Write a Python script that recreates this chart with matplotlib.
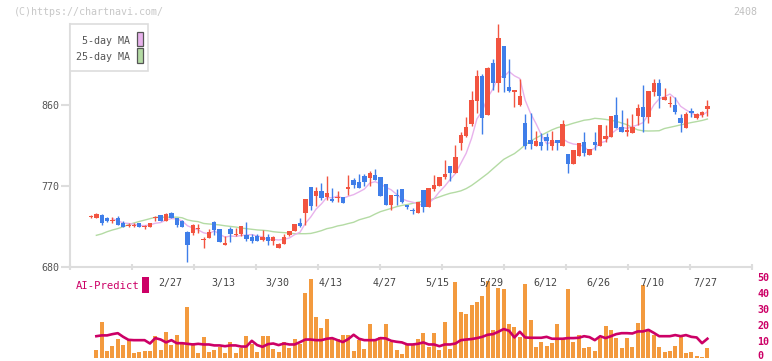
import matplotlib
matplotlib.use("Agg")
import matplotlib.pyplot as plt
import numpy as np
import pandas as pd
from matplotlib.patches import Rectangle
from matplotlib.transforms import blended_transform_factory

# ---------------- data ----------------
opens = [736, 735, 738, 735, 731, 734, 729, 726, 726, 729, 725, 724, 734, 738, 731, 740, 734, 731, 719, 718,
         722, 710, 712, 730, 722, 705, 722, 716, 717, 716, 713, 714, 710, 713, 709, 701, 706, 716, 720, 729,
         740, 769, 759, 764, 758, 756, 757, 758, 767, 777, 774, 781, 779, 782, 780, 772, 749, 760, 767, 749,
         743, 740, 766, 747, 767, 770, 780, 792, 784, 818, 826, 839, 865, 892, 849, 907, 885, 926, 880, 874,
         860, 840, 821, 814, 819, 824, 814, 821, 814, 806, 795, 803, 819, 805, 819, 814, 822, 824, 849, 836,
         830, 829, 848, 858, 847, 874, 884, 866, 861, 860, 846, 834, 853, 846, 849, 856]
highs = [738, 740, 739, 736, 736, 737, 731, 729, 729, 729, 727, 729, 737, 738, 740, 741, 735, 732, 720, 728,
         728, 713, 722, 731, 722, 714, 724, 723, 726, 730, 717, 717, 721, 717, 714, 707, 717, 720, 728, 735,
         756, 769, 769, 773, 781, 768, 765, 758, 782, 779, 783, 783, 787, 789, 780, 772, 760, 767, 767, 749,
         746, 752, 766, 768, 782, 780, 799, 792, 816, 830, 847, 876, 899, 894, 902, 911, 950, 926, 911, 877,
         889, 850, 851, 831, 829, 829, 831, 821, 843, 806, 810, 818, 830, 811, 830, 838, 838, 848, 869, 854,
         846, 850, 861, 882, 876, 889, 889, 879, 870, 869, 850, 852, 857, 851, 853, 866]
lows = [735, 734, 727, 730, 729, 727, 724, 724, 724, 725, 722, 724, 731, 731, 731, 734, 724, 724, 686, 716,
        718, 701, 712, 716, 708, 705, 708, 714, 714, 709, 707, 709, 709, 704, 705, 701, 706, 714, 720, 725,
        727, 743, 748, 754, 754, 752, 752, 751, 760, 768, 768, 770, 770, 777, 759, 749, 743, 749, 751, 744,
        739, 740, 741, 747, 765, 770, 778, 776, 784, 810, 824, 837, 851, 828, 849, 877, 874, 875, 874, 858,
        859, 811, 811, 814, 810, 810, 810, 810, 814, 785, 795, 803, 803, 805, 810, 814, 819, 824, 834, 830,
        826, 829, 838, 830, 840, 870, 857, 866, 858, 850, 830, 834, 847, 844, 847, 848]
closes = [737, 739, 729, 731, 732, 727, 725, 727, 727, 725, 726, 729, 736, 731, 739, 734, 727, 725, 704, 727,
          723, 711, 719, 721, 708, 707, 717, 717, 726, 711, 709, 709, 713, 709, 713, 706, 713, 720, 728, 726,
          756, 748, 764, 757, 762, 753, 758, 751, 769, 771, 768, 774, 784, 777, 759, 749, 760, 759, 752, 747,
          742, 752, 747, 768, 771, 780, 783, 784, 802, 827, 836, 866, 892, 846, 901, 885, 934, 890, 876, 877,
          870, 814, 817, 820, 814, 820, 821, 818, 839, 795, 810, 818, 807, 811, 816, 838, 826, 848, 834, 830,
          832, 836, 857, 847, 876, 884, 870, 869, 862, 852, 840, 850, 851, 850, 852, 859]

ma25 = [np.nan,
        715.2, 716.8, 719.2, 721.1, 722.7, 724.7, 727.1, 728.9, 730.6, 732.1, 733.7, 735.2, 735.2, 735.4, 735.3,
        735.4, 734.7, 732.3, 731.1, 730.4, 728.4, 727.8, 727.4, 726.7, 725.8, 725.1, 724.4, 723.3, 722.6, 721.9,
        721.2, 720.8, 720.3, 719.2, 718.6, 718.2, 717.7, 717.0, 717.0, 717.0, 717.3, 718.7, 720.4, 722.6, 723.8,
        725.6, 726.7, 728.3, 729.7, 732.4, 734.1, 735.8, 738.8, 741.5, 743.3, 745.1, 747.0, 748.4, 749.4, 750.7,
        752.1, 753.2, 754.2, 755.9, 757.9, 760.0, 761.9, 763.1, 764.6, 767.1, 770.6, 774.9, 779.4, 783.9, 789.2,
        794.4, 799.6, 802.9, 806.0, 810.6, 815.7, 819.7, 823.3, 826.3, 829.4, 832.4, 834.8, 836.3, 837.9, 839.8,
        841.4, 843.1, 843.8, 845.2, 844.7, 844.0, 843.0, 841.9, 840.0, 838.1, 834.9, 832.4, 831.3, 831.1, 831.2,
        831.4, 833.9, 835.2, 836.5, 837.9, 839.2, 840.5, 841.6, 842.8, 844.4]

volume = [np.nan,
          4.8, 22.5, 4.2, 7.1, 11.6, 7.8, 10.9, 2.9, 3.6, 4.2, 4.2, 13.7, 4.8, 16.2, 7.8, 14.1, 8.4, 31.7, 9.0,
          2.9, 12.8, 3.6, 4.8, 6.5, 2.9, 9.7, 2.9, 5.9, 13.4, 8.4, 3.6, 13.4, 13.4, 5.5, 3.6, 9.7, 6.1, 11.6,
          8.4, 40.8, 49.4, 25.4, 18.5, 24.2, 12.2, 11.6, 14.1, 14.1, 4.2, 10.9, 5.5, 21.0, 10.9,
          12.6, 21.0, 9.7, 4.6, 2.1, 8.4, 8.4, 11.6, 15.3, 6.5, 15.3, 4.6, 22.3, 5.3, 47.5, 28.6, 27.3, 33.0,
          34.9, 38.7, 48.1, 17.2, 43.7, 43.1, 21.0, 19.1, 12.8, 46.2, 23.5, 6.5, 9.7, 7.1, 9.0, 21.0, 11.6, 43.1,
          9.7, 14.1, 5.9, 6.5, 4.0, 12.2, 19.7, 17.2, 12.2, 5.9, 12.2, 6.5, 21.6, 45.6, 16.6, 14.1, 6.5, 3.4, 4.0,
          7.1, 13.4, 2.7, 3.4, 0.8, 0.2, 5.9]

ai_predict = [np.nan,
              13.4, 13.9, 13.9, 14.7, 15.3, 13.0, 11.1, 10.9, 10.9, 10.9, 8.8, 12.2, 11.3, 9.5, 10.9, 9.0, 9.0,
              8.6, 8.2, 8.6, 8.2, 8.2, 7.6, 7.6, 7.1, 7.6, 7.6, 6.9, 6.9, 10.5, 7.8, 6.7, 8.4, 8.8, 7.8, 8.8,
              8.2, 8.2, 9.7, 11.3, 11.3, 10.9, 10.9, 11.8, 12.2, 10.9, 9.7, 11.6, 14.3, 11.8, 10.9, 10.9, 10.9,
              12.2, 12.0, 10.5, 9.9, 9.5, 8.2, 8.2, 8.6, 9.5, 8.2, 8.2, 7.1, 8.2, 8.2, 8.8, 10.9, 11.3, 11.6,
              12.2, 13.0, 14.3, 14.7, 16.2, 17.9, 16.8, 12.6, 16.2, 12.6, 12.4, 12.4, 12.4, 13.0, 11.8, 11.8,
              11.8, 12.2, 12.2, 12.4, 13.4, 12.8, 10.9, 13.4, 12.2, 13.4, 14.7, 15.3, 15.3, 15.1, 16.4, 16.4,
              17.4, 15.5, 13.4, 13.4, 13.4, 14.1, 13.4, 14.1, 13.0, 12.6, 9.0, 11.8]

date_labels = ["2/27", "3/13", "3/30", "4/13", "4/27", "5/15", "5/29", "6/12", "6/26", "7/10", "7/27"]
date_label_index = [15, 25, 35, 45, 55, 65, 75, 85, 95, 105, 115]
price_ticks = [680, 770, 860]
volume_ticks = [0, 10, 20, 30, 40, 50]

# ---------------- styling ----------------
UP = "#f25440"
DOWN = "#3f7ee9"
MA5_C = "#e8b2ec"
MA25_C = "#b4dba4"
VOL_C = "#f39a3e"
AI_C = "#cc0066"
GRID_C = "#dddddd"
TXT_C = "#555555"
FONT = "DejaVu Sans Mono"
FS = 7.2

W, H = 772, 361
fig = plt.figure(figsize=(W / 100, H / 100), dpi=100)


def px(x0, y0, x1, y1):
    return [x0 / W, 1 - y1 / H, (x1 - x0) / W, (y1 - y0) / H]


def ftext(x, y, s, **kw):
    fig.text(x / W, 1 - y / H, s, family=FONT, **kw)


n = len(closes)
idx = np.arange(n)
step = 5.36
x_first = 91.0
xlo = (70 - x_first) / step
xhi = (752 - x_first) / step

o = np.array(opens, float)
h = np.array(highs, float)
l = np.array(lows, float)
c = np.array(closes, float)
ma5 = pd.Series(c).rolling(5).mean().to_numpy()

# ---------- volume / AI axes (drawn first, transparent) ----------
vax = fig.add_axes(px(70, 278, 752, 357.5))
vax.patch.set_visible(False)
vax.set_xlim(xlo, xhi)
vax.set_ylim(0, 50)
vax.bar(idx, volume, width=0.75, color=VOL_C, linewidth=0, zorder=1)
vax.plot(idx, ai_predict, color=AI_C, lw=1.9, zorder=2)
for s in vax.spines.values():
    s.set_visible(False)
vax.set_xticks([])
vax.set_yticks([])
vtr = blended_transform_factory(fig.transFigure, vax.transData)
for v in volume_ticks:
    yy = v if v > 0 else 1.2
    vax.text(757 / W, yy, str(v), transform=vtr, ha="left", va="center", fontsize=FS,
             color=AI_C, family=FONT, fontweight="bold", clip_on=False)

# ---------- main price axes ----------
ax = fig.add_axes(px(70, 24, 752, 267))
ax.patch.set_visible(False)
ax.set_xlim(xlo, xhi)
ax.set_ylim(680, 950)

ax.plot(idx, ma25, color=MA25_C, lw=1.0, zorder=1)
ax.plot(idx, ma5, color=MA5_C, lw=1.0, zorder=1)

cols = [UP if cc >= oo else DOWN for oo, cc in zip(o, c)]
ax.vlines(idx, l, h, colors=cols, lw=1.0, zorder=2)
ax.bar(idx, np.maximum(np.abs(c - o), 1.0), bottom=np.minimum(o, c), width=0.82,
       color=cols, linewidth=0, zorder=3)

for s in ["top", "right"]:
    ax.spines[s].set_visible(False)
for s in ["left", "bottom"]:
    ax.spines[s].set_color(GRID_C)
    ax.spines[s].set_linewidth(1.5)

ax.set_yticks(price_ticks)
ax.set_yticklabels([str(v) for v in price_ticks], family=FONT)
ax.tick_params(axis="y", length=6.5, width=1.5, color=GRID_C, labelcolor=TXT_C,
               labelsize=FS, pad=1.5)
div = [xlo + j * (xhi - xlo) / 11 for j in range(12)]
ax.set_xticks(div)
ax.set_xticklabels([])
ax.tick_params(axis="x", direction="inout", length=4, width=1.5, color=GRID_C)

tr = blended_transform_factory(ax.transData, ax.transAxes)
for lab, i in zip(date_labels, date_label_index):
    ax.text(i - 0.3, -0.066, lab, transform=tr, ha="center", va="center",
            fontsize=FS, color="#444444", family=FONT, clip_on=False)

# ---------- legend box ----------
fig.add_artist(Rectangle((70 / W, 1 - 71 / H), 78 / W, 47 / H, transform=fig.transFigure,
                         facecolor="white", edgecolor=GRID_C, lw=1.2, zorder=5))
ftext(130, 40.5, "5-day MA", fontsize=FS, color=TXT_C, ha="right", va="center", zorder=6)
ftext(130, 56.5, "25-day MA", fontsize=FS, color=TXT_C, ha="right", va="center", zorder=6)
fig.add_artist(Rectangle((136.7 / W, 1 - 46 / H), 6 / W, 14.3 / H, transform=fig.transFigure,
                         facecolor=MA5_C, edgecolor="#555555", lw=0.9, zorder=6))
fig.add_artist(Rectangle((136.7 / W, 1 - 63.3 / H), 6 / W, 15 / H, transform=fig.transFigure,
                         facecolor=MA25_C, edgecolor="#555555", lw=0.9, zorder=6))

# ---------- AI-Predict label ----------
ftext(76, 286, "AI-Predict", fontsize=FS + 0.4, color=AI_C, ha="left", va="center")
fig.add_artist(Rectangle((142.3 / W, 1 - 292.7 / H), 6.4 / W, 15.4 / H, transform=fig.transFigure,
                         facecolor=AI_C, edgecolor="none"))

# ---------- watermark / code ----------
ftext(14, 12, "(C)https://chartnavi.com/", fontsize=FS, color="#c8c8c8", ha="left", va="center")
ftext(757, 12, "2408", fontsize=FS, color="#c0c0c0", ha="right", va="center")

fig.savefig("out.png", dpi=100)
